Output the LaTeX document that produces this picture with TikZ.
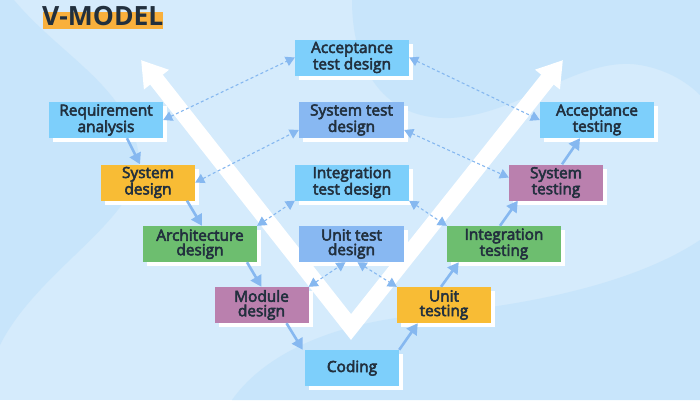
\documentclass[tikz,border=0pt]{standalone}
\usepackage{fontspec}
\setmainfont{Open Sans}
\newfontfamily\boxfont[FakeBold=3.5]{Open Sans}
\usetikzlibrary{arrows.meta,shadows,calc}
\definecolor{bg}{HTML}{D5EBFC}
\definecolor{blob}{HTML}{C8E5FB}
\definecolor{lb}{HTML}{7DCFFB}
\definecolor{mb}{HTML}{88B8F2}
\definecolor{yb}{HTML}{F8BC35}
\definecolor{gb}{HTML}{6DBE6F}
\definecolor{pb}{HTML}{BA80AE}
\definecolor{arr}{HTML}{86B8F0}
\definecolor{txt}{HTML}{22303E}
\definecolor{hl}{HTML}{F9B03C}
\begin{document}
\begin{tikzpicture}[x=1pt,y=-1pt,
  bx/.style={rectangle, inner sep=0pt, minimum height=36pt, text=txt, align=center,
    font=\boxfont\fontsize{15.4}{14.5}\selectfont,
    drop shadow={shadow xshift=4pt, shadow yshift=-4pt, fill=white, opacity=1}},
  wide/.style={bx, minimum width=114pt},
  narrow/.style={bx, minimum width=94pt},
  midw/.style={bx, minimum width=105pt},
  flow/.style={draw=arr, line width=2.6pt, -{Triangle[length=11pt,width=12pt]}},
  link/.style={draw=arr, line width=1.1pt, dash pattern=on 3pt off 2.5pt,
    {Triangle[length=9pt,width=10pt]}-{Triangle[length=9pt,width=10pt]}},
  varrow/.style={draw=white, line width=16pt, line join=miter,
    {Triangle[length=25pt,width=30pt]}-{Triangle[length=25pt,width=30pt]}}
]
\useasboundingbox (0,0) rectangle (700,400);
% background
\fill[bg] (0,0) rectangle (700,400);
\fill[blob] (0,0) -- (14,0) .. controls (60,55) and (125,85) .. (138,150)
  .. controls (150,215) and (40,265) .. (0,345) -- cycle;
\fill[blob] (352,0) .. controls (352,70) and (385,120) .. (450,118)
  .. controls (520,115) and (580,55) .. (640,65)
  .. controls (670,70) and (690,85) .. (700,95) -- (700,0) -- cycle;
\fill[blob] (232,400) .. controls (260,360) and (320,325) .. (420,315)
  .. controls (540,305) and (640,280) .. (700,240) -- (700,400) -- cycle;
% title
\fill[hl] (43,12) rectangle (163,29);
\node[anchor=base west, inner sep=0pt, text=txt, font=\bfseries\fontsize{26.5}{26}\selectfont] (title) at (42,25.5) {V-MODEL};
% V arrow
\coordinate (vl) at (141,60);
\coordinate (vb) at (351,327);
\coordinate (vr) at (563,60);
\draw[varrow] (vl) -- (vb) -- (vr);
% boxes
\node[wide, fill=lb] (req) at (106,120) {Requirement\\analysis};
\node[narrow, fill=yb] (sd) at (148,182.5) {System\\design};
\node[wide, fill=gb] (arch) at (200,244) {Architecture\\design};
\node[narrow, fill=pb] (mod) at (261.5,305) {Module\\design};
\node[narrow, fill=lb] (cod) at (352,368) {Coding};
\node[narrow, fill=yb] (ut) at (444,305) {Unit\\testing};
\node[wide, fill=gb] (it) at (504,244) {Integration\\testing};
\node[narrow, fill=pb] (st) at (556,182.5) {System\\testing};
\node[wide, fill=lb] (at) at (597,120) {Acceptance\\testing};
\node[wide, fill=lb] (atd) at (352,57.5) {Acceptance\\test design};
\node[midw, fill=mb] (std) at (351.5,120) {System test\\design};
\node[wide, fill=lb] (itd) at (352,182.5) {Integration\\test design};
\node[midw, fill=mb] (utd) at (351.5,244) {Unit test\\design};
% flow arrows
\draw[flow] ([xshift=21pt]req.south) -- ([xshift=-8pt]sd.north);
\draw[flow] ([xshift=39pt]sd.south) -- ([xshift=2pt]arch.north);
\draw[flow] ([xshift=47pt]arch.south) -- (mod.north);
\draw[flow] ([xshift=25pt]mod.south) -- ([xshift=-2pt]cod.north west);
\draw[flow] (cod.north east) -- ([xshift=21pt]ut.south west);
\draw[flow] ([xshift=-3pt]ut.north) -- ([xshift=12pt]it.south west);
\draw[flow] ([xshift=-4pt]it.north) -- ([xshift=9pt]st.south west);
\draw[flow] ([xshift=6pt]st.north) -- ([xshift=-17pt]at.south);
% dashed links
\draw[link] (req.east) -- (atd.west);
\draw[link] (atd.east) -- (at.west);
\draw[link] (sd.east) -- ([yshift=-10pt]std.west);
\draw[link] ([yshift=-10pt]std.east) -- ([yshift=5pt]st.west);
\draw[link] (arch.north east) -- (itd.south west);
\draw[link] (itd.south east) -- (it.north west);
\draw[link] (mod.north east) -- ([xshift=-6pt]utd.south);
\draw[link] ([xshift=6pt]utd.south) -- (ut.north west);
\end{tikzpicture}
\end{document}
